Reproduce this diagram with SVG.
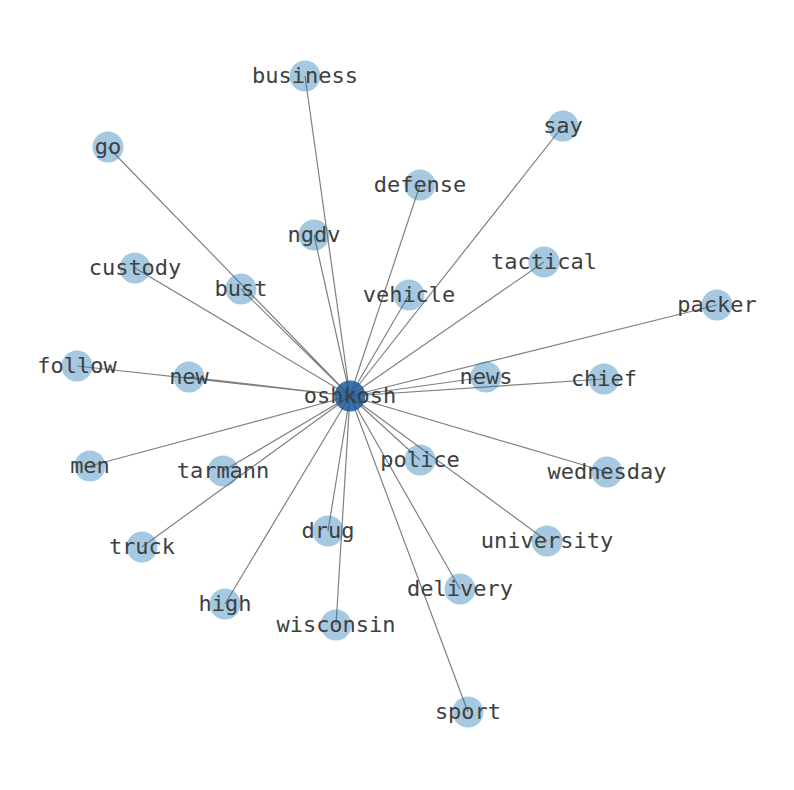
<svg xmlns="http://www.w3.org/2000/svg" width="794" height="790" viewBox="0 0 794 790">
<style>
.e{stroke:#808080;stroke-width:1.2;fill:none}
.n{fill:#1f78b4;fill-opacity:0.4}
.c{fill:#1a5b9c;fill-opacity:0.85}
text{font-family:"DejaVu Sans Mono","Liberation Mono",monospace;font-size:22px;fill:#404040;text-anchor:middle}
</style>
<rect width="794" height="790" fill="#fff"/>
<g id="edges">
<path class="e" d="M350 396L305 76M350 396L563 126M350 396L108 147M350 396L420 185M350 396L314 235M350 396L544 262M350 396L135 268M350 396L241 289M350 396L409 295M350 396L717 305M350 396L77 366M350 396L189 377M350 396L486 377M350 396L604 379M350 396L90 466M350 396L223 471M350 396L420 460M350 396L607 472M350 396L142 547M350 396L328 531M350 396L547 541M350 396L225 604M350 396L460 589M350 396L336 625M350 396L468 712"/>
</g>
<g id="business"><circle class="n" cx="305" cy="76" r="15.5"/><text x="305" y="83">business</text></g>
<g id="say"><circle class="n" cx="563" cy="126" r="15.5"/><text x="563" y="133">say</text></g>
<g id="go"><circle class="n" cx="108" cy="147" r="15.5"/><text x="108" y="154">go</text></g>
<g id="defense"><circle class="n" cx="420" cy="185" r="15.5"/><text x="420" y="192">defense</text></g>
<g id="ngdv"><circle class="n" cx="314" cy="235" r="15.5"/><text x="314" y="242">ngdv</text></g>
<g id="tactical"><circle class="n" cx="544" cy="262" r="15.5"/><text x="544" y="269">tactical</text></g>
<g id="custody"><circle class="n" cx="135" cy="268" r="15.5"/><text x="135" y="275">custody</text></g>
<g id="bust"><circle class="n" cx="241" cy="289" r="15.5"/><text x="241" y="296">bust</text></g>
<g id="vehicle"><circle class="n" cx="409" cy="295" r="15.5"/><text x="409" y="302">vehicle</text></g>
<g id="packer"><circle class="n" cx="717" cy="305" r="15.5"/><text x="717" y="312">packer</text></g>
<g id="follow"><circle class="n" cx="77" cy="366" r="15.5"/><text x="77" y="373">follow</text></g>
<g id="new"><circle class="n" cx="189" cy="377" r="15.5"/><text x="189" y="384">new</text></g>
<g id="news"><circle class="n" cx="486" cy="377" r="15.5"/><text x="486" y="384">news</text></g>
<g id="chief"><circle class="n" cx="604" cy="379" r="15.5"/><text x="604" y="386">chief</text></g>
<g id="men"><circle class="n" cx="90" cy="466" r="15.5"/><text x="90" y="473">men</text></g>
<g id="tarmann"><circle class="n" cx="223" cy="471" r="15.5"/><text x="223" y="478">tarmann</text></g>
<g id="police"><circle class="n" cx="420" cy="460" r="15.5"/><text x="420" y="467">police</text></g>
<g id="wednesday"><circle class="n" cx="607" cy="472" r="15.5"/><text x="607" y="479">wednesday</text></g>
<g id="truck"><circle class="n" cx="142" cy="547" r="15.5"/><text x="142" y="554">truck</text></g>
<g id="drug"><circle class="n" cx="328" cy="531" r="15.5"/><text x="328" y="538">drug</text></g>
<g id="university"><circle class="n" cx="547" cy="541" r="15.5"/><text x="547" y="548">university</text></g>
<g id="high"><circle class="n" cx="225" cy="604" r="15.5"/><text x="225" y="611">high</text></g>
<g id="delivery"><circle class="n" cx="460" cy="589" r="15.5"/><text x="460" y="596">delivery</text></g>
<g id="wisconsin"><circle class="n" cx="336" cy="625" r="15.5"/><text x="336" y="632">wisconsin</text></g>
<g id="sport"><circle class="n" cx="468" cy="712" r="15.5"/><text x="468" y="719">sport</text></g>
<g id="oshkosh"><circle class="c" cx="350" cy="396" r="15.5"/><text x="350" y="403">oshkosh</text></g>
</svg>
